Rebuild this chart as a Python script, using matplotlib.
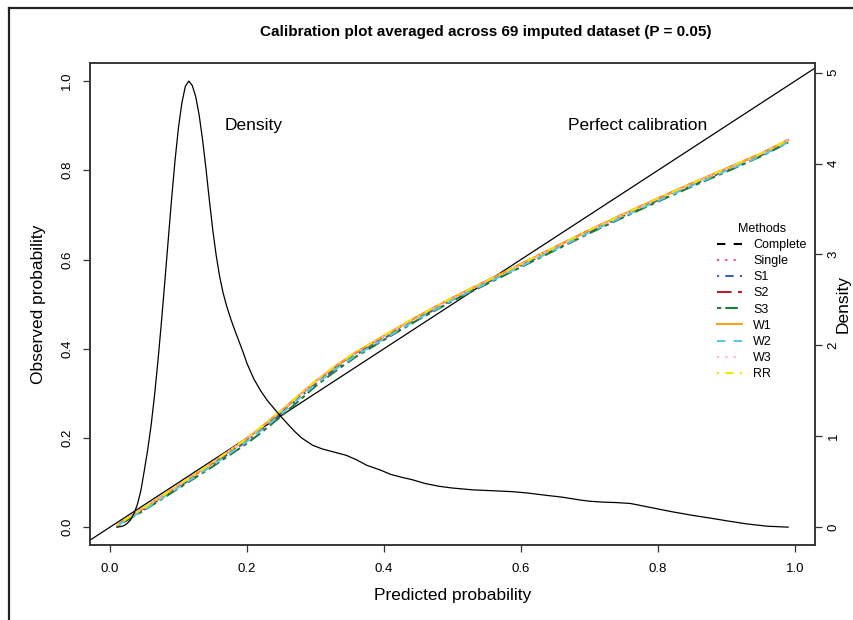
import matplotlib
matplotlib.use("Agg")
import matplotlib.pyplot as plt
from matplotlib.lines import Line2D

plt.rcParams['font.family'] = ['Liberation Sans', 'DejaVu Sans']

# calibration curves (predicted vs observed), one list per method
pred = [0.01, 0.05, 0.10, 0.15, 0.20, 0.22, 0.25, 0.28, 0.30, 0.33, 0.36, 0.40,
        0.45, 0.50, 0.55, 0.60, 0.65, 0.70, 0.75, 0.80, 0.85, 0.90, 0.95, 0.99]
complete = [0.004, 0.042, 0.092, 0.143, 0.197, 0.221, 0.259, 0.299, 0.325, 0.360, 0.391, 0.427,
            0.472, 0.513, 0.551, 0.589, 0.627, 0.665, 0.701, 0.736, 0.770, 0.803, 0.836, 0.867]
single = [0.005, 0.043, 0.093, 0.144, 0.198, 0.222, 0.260, 0.300, 0.326, 0.361, 0.392, 0.428,
          0.472, 0.513, 0.551, 0.589, 0.627, 0.665, 0.701, 0.736, 0.770, 0.803, 0.836, 0.867]
s1 = [0.003, 0.040, 0.090, 0.140, 0.193, 0.217, 0.255, 0.295, 0.321, 0.356, 0.387, 0.423,
      0.468, 0.510, 0.548, 0.586, 0.624, 0.662, 0.698, 0.733, 0.767, 0.800, 0.833, 0.864]
s2 = [0.005, 0.043, 0.093, 0.144, 0.198, 0.222, 0.260, 0.300, 0.326, 0.361, 0.392, 0.428,
      0.473, 0.514, 0.552, 0.590, 0.628, 0.666, 0.702, 0.737, 0.771, 0.804, 0.837, 0.868]
s3 = [0.002, 0.038, 0.087, 0.136, 0.188, 0.211, 0.249, 0.289, 0.316, 0.351, 0.383, 0.420,
      0.465, 0.507, 0.545, 0.583, 0.621, 0.659, 0.695, 0.730, 0.764, 0.797, 0.831, 0.862]
w1 = [0.005, 0.044, 0.094, 0.145, 0.199, 0.223, 0.261, 0.301, 0.327, 0.362, 0.393, 0.429,
      0.473, 0.514, 0.552, 0.590, 0.628, 0.666, 0.702, 0.737, 0.771, 0.804, 0.837, 0.868]
w2 = [0.003, 0.039, 0.089, 0.139, 0.192, 0.216, 0.254, 0.294, 0.320, 0.355, 0.386, 0.422,
      0.467, 0.509, 0.547, 0.585, 0.623, 0.661, 0.697, 0.732, 0.766, 0.799, 0.832, 0.863]
w3 = [0.004, 0.043, 0.093, 0.144, 0.198, 0.222, 0.260, 0.300, 0.326, 0.361, 0.392, 0.428,
      0.472, 0.513, 0.551, 0.589, 0.627, 0.665, 0.701, 0.736, 0.770, 0.803, 0.836, 0.867]
rr = [0.005, 0.044, 0.094, 0.145, 0.199, 0.224, 0.262, 0.302, 0.328, 0.363, 0.394, 0.430,
      0.474, 0.515, 0.552, 0.590, 0.628, 0.666, 0.702, 0.737, 0.771, 0.804, 0.837, 0.868]

methods = ['Complete', 'Single', 'S1', 'S2', 'S3', 'W1', 'W2', 'W3', 'RR']
series = [complete, single, s1, s2, s3, w1, w2, w3, rr]
colors = ['black', '#F0506E', '#3F5FA8', '#B22232', '#1E7A3C', '#FFA020', '#5CC8E6', '#FFB6C8', '#F5E400']
# R lty 2,3,4,5,6,1,2,3,4
styles = [(0, (4, 4)), (0, (1, 3)), (0, (1, 3, 4, 3)), (0, (7, 3)), (0, (2, 2, 6, 2)),
          '-', (0, (4, 4)), (0, (1, 3)), (0, (1, 3, 4, 3))]

# density of predicted probabilities
dens_x = [0.01, 0.015, 0.02, 0.025, 0.03, 0.035, 0.04, 0.045, 0.05, 0.055, 0.06, 0.065,
          0.07, 0.075, 0.08, 0.085, 0.09, 0.095, 0.10, 0.105, 0.11, 0.115, 0.12, 0.125,
          0.13, 0.135, 0.14, 0.145, 0.15, 0.155, 0.16, 0.165, 0.17, 0.175, 0.18, 0.185,
          0.19, 0.195, 0.20, 0.21, 0.22, 0.229, 0.24, 0.248, 0.26, 0.27, 0.28, 0.296,
          0.31, 0.325, 0.345, 0.36, 0.375, 0.394, 0.41, 0.425, 0.442, 0.46, 0.48, 0.50,
          0.53, 0.56, 0.588, 0.61, 0.637, 0.66, 0.685, 0.70, 0.72, 0.74, 0.76, 0.78,
          0.80, 0.82, 0.85, 0.88, 0.90, 0.93, 0.96, 0.99]
dens_y = [0.0, 0.005, 0.015, 0.04, 0.08, 0.15, 0.25, 0.40, 0.62, 0.85, 1.12, 1.45,
          1.83, 2.25, 2.70, 3.16, 3.62, 4.04, 4.40, 4.67, 4.85, 4.907, 4.86, 4.74,
          4.54, 4.27, 3.95, 3.60, 3.27, 2.99, 2.76, 2.58, 2.44, 2.32, 2.21, 2.11,
          2.01, 1.91, 1.80, 1.63, 1.50, 1.40, 1.30, 1.23, 1.13, 1.05, 0.98, 0.90,
          0.86, 0.83, 0.79, 0.74, 0.68, 0.63, 0.58, 0.55, 0.52, 0.48, 0.45, 0.43,
          0.41, 0.40, 0.39, 0.375, 0.35, 0.33, 0.30, 0.285, 0.275, 0.27, 0.26, 0.23,
          0.20, 0.17, 0.13, 0.095, 0.07, 0.035, 0.01, 0.0]

fig = plt.figure(figsize=(8.54, 6.20), dpi=100)
ax = fig.add_axes([0.1054, 0.121, 0.8489, 0.777])

xlo, xhi = -0.0292, 1.0292
ylo, yhi = -0.04, 1.04
ax.set_xlim(xlo, xhi)
ax.set_ylim(ylo, yhi)

ax.axline((0, 0), slope=1, color='black', lw=0.9)
for y, c, ls in zip(series, colors, styles):
    ax.plot(pred, y, color=c, linestyle=ls, lw=1.5)

ax.text(0.21, 0.9, 'Density', fontsize=12.5, ha='center', va='center')
ax.text(0.77, 0.9, 'Perfect calibration', fontsize=12.5, ha='center', va='center')

ax.set_xticks([0.0, 0.2, 0.4, 0.6, 0.8, 1.0])
ax.set_yticks([0.0, 0.2, 0.4, 0.6, 0.8, 1.0])
ax.set_xticklabels(['0.0', '0.2', '0.4', '0.6', '0.8', '1.0'])
ax.set_yticklabels(['0.0', '0.2', '0.4', '0.6', '0.8', '1.0'], rotation=90, va='center')
ax.tick_params(length=5, width=0.9, color='#333333', labelsize=9.5, pad=7)
ax.tick_params(axis='x', pad=8)
ax.set_xlabel('Predicted probability', fontsize=12.5, labelpad=9)
ax.set_ylabel('Observed probability', fontsize=12.5, labelpad=11)
for sp in ax.spines.values():
    sp.set_linewidth(1.1)
    sp.set_color('#333333')

# density on a second axis sharing x
ax2 = ax.twinx()
dmax = max(dens_y)
ax2.set_ylim(ylo * dmax, yhi * dmax)
ax2.plot(dens_x, dens_y, color='black', lw=0.9)
ax2.set_yticks([0, 1, 2, 3, 4, 5])
ax2.set_yticklabels(['0', '1', '2', '3', '4', '5'], rotation=90, va='center')
ax2.tick_params(length=5, width=0.9, color='#333333', labelsize=9.5, pad=4)
for sp in ax2.spines.values():
    sp.set_linewidth(1.1)
    sp.set_color('#333333')
fig.text(843 / 854, 1 - 304 / 620, 'Density', fontsize=12.5, rotation=90,
         ha='center', va='center')

handles = [Line2D([], [], color=c, linestyle=ls, lw=1.5) for c, ls in zip(colors, styles)]
leg = ax2.legend(handles, methods, title='Methods', loc='upper left',
                 bbox_to_anchor=(712 / 854, 1 - 218 / 620), bbox_transform=fig.transFigure,
                 frameon=False, fontsize=9, title_fontsize=9, handlelength=2.0,
                 handletextpad=0.9, labelspacing=0.33, borderaxespad=0)

fig.text(486 / 854, 1 - 32 / 620, 'Calibration plot averaged across 69 imputed dataset (P = 0.05)',
         fontsize=11, fontweight='bold', ha='center', va='center')

# outer frame, cut at right and bottom like the source image
fig.add_artist(Line2D([9 / 854, 9 / 854], [0, 1 - 8 / 620], transform=fig.transFigure,
                      color='#222222', lw=1.6))
fig.add_artist(Line2D([9 / 854, 1], [1 - 8 / 620, 1 - 8 / 620], transform=fig.transFigure,
                      color='#222222', lw=1.6))

fig.savefig('out.png', dpi=100)
